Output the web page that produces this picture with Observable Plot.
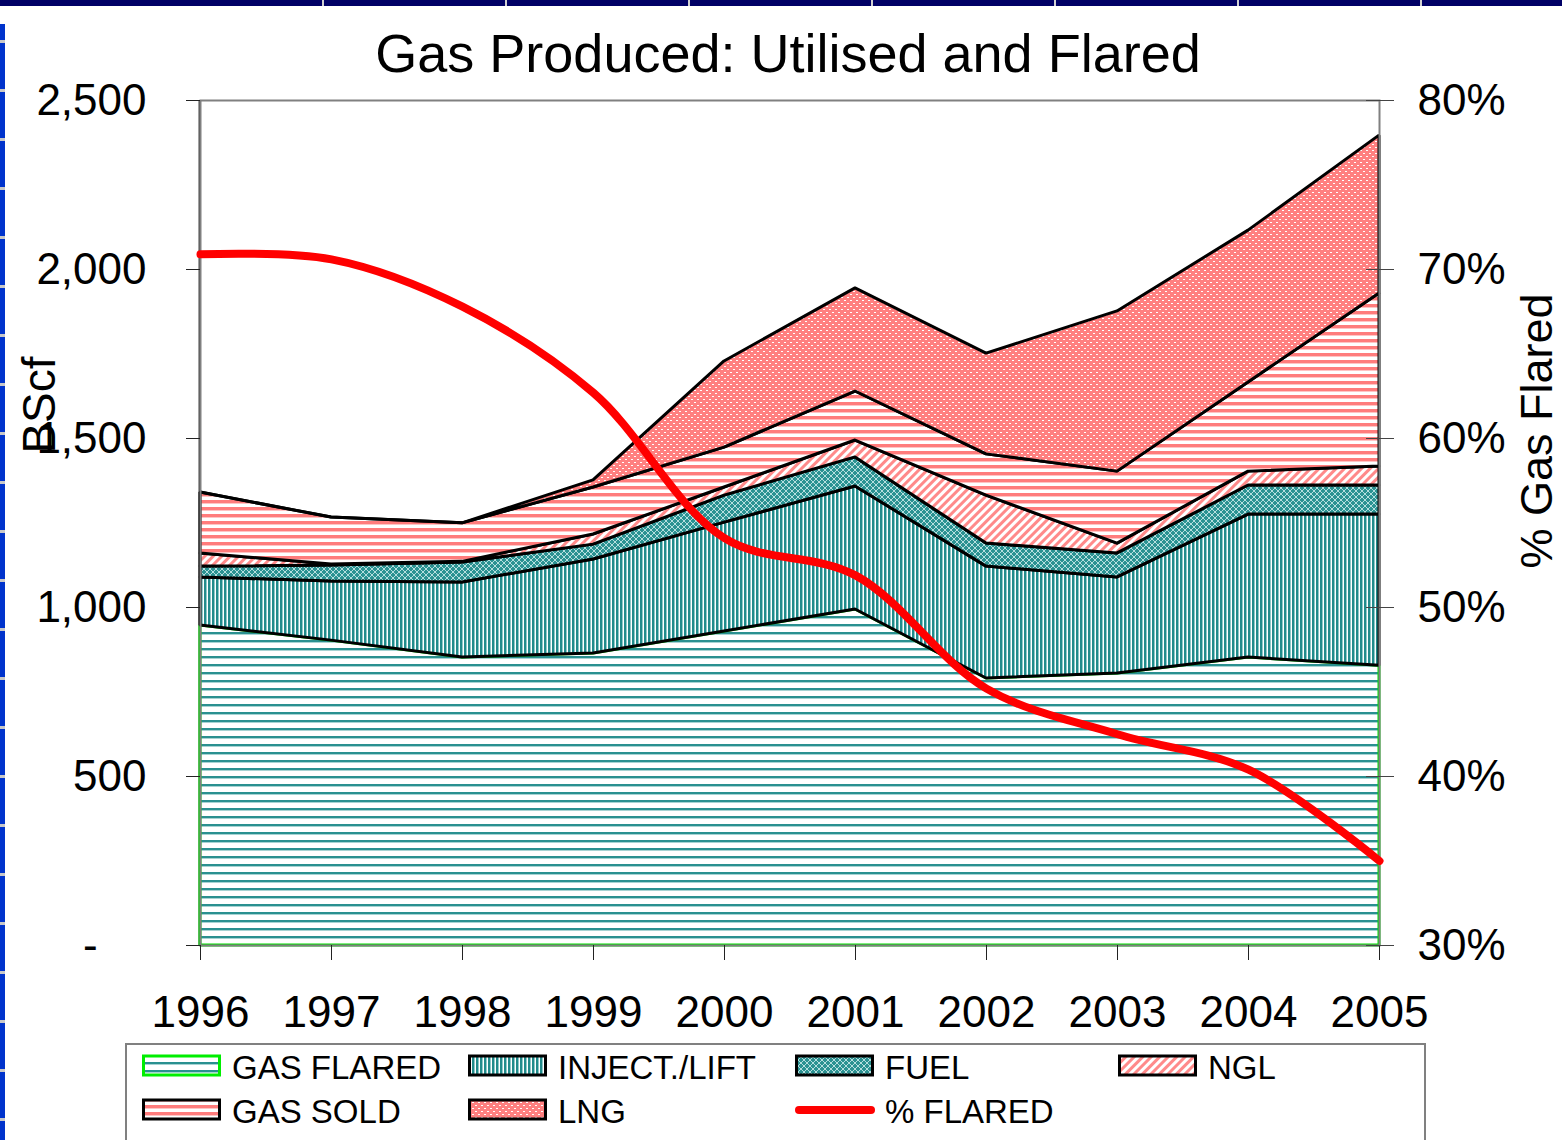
<!DOCTYPE html>
<html>
<head>
<meta charset="utf-8">
<script src="https://cdn.jsdelivr.net/npm/d3@7"></script>
<script src="https://cdn.jsdelivr.net/npm/@observablehq/plot@0.6"></script>
<style>
  html, body { margin: 0; padding: 0; background: #fff; }
  #page { position: relative; width: 1562px; height: 1140px; overflow: hidden; background: #fff;
          font-family: 'Liberation Sans', Arial, sans-serif; color: #000; }
  #topbar { position: absolute; left: 0; top: 0; width: 1562px; height: 6px; background: #000066; }
  #leftbar { position: absolute; left: 0; top: 24px; width: 5px; height: 1116px; background: #0033cc; }
  .tsep { position: absolute; top: 0; width: 2px; height: 6px; background: #d0d0d0; }
  .lsep { position: absolute; left: 0; width: 5px; height: 3px; background: #c8c8c8; }
  #title { position: absolute; left: 288px; width: 1000px; top: 26px; font-size: 54px; line-height: 1; text-align: center; white-space: nowrap; }
  #chart { position: absolute; left: 0; top: 80px; }
  #legend { position: absolute; left: 125px; top: 1043px; width: 1301px; height: 120px; border: 2px solid #808080; box-sizing: border-box; }
  .item { position: absolute; font-size: 33px; line-height: 1; white-space: nowrap; }
  .sw { position: absolute; }
</style>
</head>
<body>
<svg width="0" height="0" style="position:absolute">
  <defs>
    <pattern id="p-flared" patternUnits="userSpaceOnUse" width="8" height="8">
      <rect width="8" height="8" fill="#ffffff"/>
      <rect y="0" width="8" height="2" fill="#2a9090"/>
      <rect y="2" width="8" height="1" fill="#a6d3d3"/>
    </pattern>
    <pattern id="p-inject" patternUnits="userSpaceOnUse" width="4" height="4">
      <rect width="4" height="4" fill="#ffffff"/>
      <rect width="2" height="4" fill="#218b8b"/>
      <rect x="2" width="1" height="4" fill="#8fc9c9"/>
    </pattern>
    <pattern id="p-fuel" patternUnits="userSpaceOnUse" width="6" height="6">
      <rect width="6" height="6" fill="#2b9292"/>
      <path d="M0,3 L3,0 L6,3 L3,6 Z" fill="none" stroke="#b5dede" stroke-width="1"/>
    </pattern>
    <pattern id="p-ngl" patternUnits="userSpaceOnUse" width="6" height="6" patternTransform="rotate(45)">
      <rect width="6" height="6" fill="#ffffff"/>
      <rect width="3" height="6" fill="#ff8a8a"/>
    </pattern>
    <pattern id="p-sold" patternUnits="userSpaceOnUse" width="8" height="7">
      <rect width="8" height="7" fill="#ffffff"/>
      <rect width="8" height="3" fill="#ff7c7c"/>
      <rect y="3" width="8" height="1" fill="#ffc4c4"/>
    </pattern>
    <pattern id="p-lng" patternUnits="userSpaceOnUse" width="6" height="6">
      <rect width="6" height="6" fill="#ff8080"/>
      <rect x="1" y="1" width="2" height="1" fill="#ffffff"/>
      <rect x="4" y="4" width="2" height="1" fill="#ffffff"/>
    </pattern>
  </defs>
</svg>
<div id="page">
  <div id="topbar"></div>
  <div id="leftbar"></div>
  <div id="title"></div>
  <div id="chart"></div>
  <div id="legend"></div>
</div>
<script>
// ---------------- data ----------------
const titleText = "Gas Produced: Utilised and Flared";
const years = [1996, 1997, 1998, 1999, 2000, 2001, 2002, 2003, 2004, 2005];
// BScf, stacked from bottom to top
const gasFlared  = [947, 902, 852, 864, 929, 994, 790, 805, 852, 828];
const injectLift = [142, 175, 222, 278, 322, 364, 331, 284, 423, 447];
const fuel       = [32, 47, 59, 44, 80, 86, 68, 71, 86, 86];
const ngl        = [39, 3, 2, 30, 24, 50, 142, 29, 41, 56];
const gasSold    = [180, 139, 114, 139, 118, 145, 122, 213, 264, 512];
const lng        = [0, 0, 0, 21, 255, 305, 298, 474, 449, 467];
// % of gas flared (right axis)
const pctFlared  = [70.9, 70.6, 67.8, 62.7, 54.1, 51.9, 45.2, 42.5, 40.4, 35.0];

const seriesNames = ["GAS FLARED", "INJECT./LIFT", "FUEL", "NGL", "GAS SOLD", "LNG"];
const lineName = "% FLARED";
const leftTicks = [0, 500, 1000, 1500, 2000, 2500];
const leftTickLabels = ["-\u00a0\u00a0\u00a0\u00a0", "500", "1,000", "1,500", "2,000", "2,500"];
const rightTickLabels = ["30%", "40%", "50%", "60%", "70%", "80%"];
const leftAxisLabel = "BScf";
const rightAxisLabel = "% Gas Flared";

// ---------------- styles ----------------
const fillOf = {
  "GAS FLARED": "url(#p-flared)",
  "INJECT./LIFT": "url(#p-inject)",
  "FUEL": "url(#p-fuel)",
  "NGL": "url(#p-ngl)",
  "GAS SOLD": "url(#p-sold)",
  "LNG": "url(#p-lng)"
};
const strokeOf = s => s === "GAS FLARED" ? "#00dd00" : "#000000";

// slide frame decoration
const page = document.getElementById("page");
for (let x = 322; x < 1562; x += 183) {
  const d = document.createElement("div"); d.className = "tsep"; d.style.left = x + "px"; page.appendChild(d);
}
for (let y = 40; y < 1140; y += 49) {
  const d = document.createElement("div"); d.className = "lsep"; d.style.top = y + "px"; page.appendChild(d);
}

// ---------------- build ----------------
const seriesValues = [gasFlared, injectLift, fuel, ngl, gasSold, lng];
const rows = seriesNames.flatMap((s, i) => years.map((yr, j) => ({year: yr, series: s, value: seriesValues[i][j]})));
const pctRows = years.map((yr, i) => ({year: yr, pct: pctFlared[i]}));
// right axis 30%..80% maps onto left axis 0..2500
const pctToLeft = p => (p - 30) / 50 * 2500;

document.getElementById("title").textContent = titleText;

const chart = Plot.plot({
  width: 1562,
  height: 960,
  marginTop: 20,
  marginBottom: 95,
  marginLeft: 200,
  marginRight: 183,
  style: {fontFamily: "'Liberation Sans', Arial, sans-serif", fontSize: "44px", color: "#000", background: "transparent", overflow: "visible"},
  x: {type: "linear", domain: [1996, 2005]},
  y: {domain: [0, 2500]},
  color: {type: "identity"},
  marks: [
    Plot.ruleX([years[0]], {stroke: "#444", strokeWidth: 2, dx: -1}),
    Plot.areaY(rows, Plot.stackY({
      x: "year", y: "value", z: "series", order: null,
      fill: d => fillOf[d.series],
      stroke: d => strokeOf(d.series),
      strokeWidth: 3, strokeLinejoin: "miter"
    })),
    Plot.frame({stroke: "#808080", strokeWidth: 2}),
    Plot.lineY(pctRows, {x: "year", y: d => pctToLeft(d.pct), stroke: "#ff0000", strokeWidth: 8, curve: "catmull-rom"}),
    Plot.axisX({ticks: years, tickFormat: d => String(d), tickSize: 15, tickPadding: 35, fontSize: 44, label: null, stroke: "#222"}),
    Plot.axisY({ticks: leftTicks, tickFormat: d => leftTickLabels[leftTicks.indexOf(d)], tickSize: 14, tickPadding: 40, fontSize: 44, label: null, stroke: "#222"}),
    Plot.axisY({anchor: "right", ticks: leftTicks, tickFormat: () => "", tickSize: 28, dx: -14, label: null, stroke: "#444"}),
    Plot.axisY({anchor: "right", ticks: leftTicks, tickFormat: d => rightTickLabels[leftTicks.indexOf(d)], tickSize: 0, tickPadding: 38, fontSize: 44, label: null}),
    Plot.text([leftAxisLabel], {text: d => d, frameAnchor: "left", textAnchor: "middle", dx: -160, dy: -118, rotate: -90, fontSize: 46}),
    Plot.text([rightAxisLabel], {text: d => d, frameAnchor: "right", textAnchor: "middle", dx: 158, dy: -92, rotate: -90, fontSize: 45})
  ]
});
document.getElementById("chart").appendChild(chart);

// ---------------- legend ----------------
const legend = document.getElementById("legend");
const lx0 = 125, ly0 = 1043;
const legendItems = [
  {label: seriesNames[0], col: 0, row: 0, kind: "area"},
  {label: seriesNames[1], col: 1, row: 0, kind: "area"},
  {label: seriesNames[2], col: 2, row: 0, kind: "area"},
  {label: seriesNames[3], col: 3, row: 0, kind: "area"},
  {label: seriesNames[4], col: 0, row: 1, kind: "area"},
  {label: seriesNames[5], col: 1, row: 1, kind: "area"},
  {label: lineName, col: 2, row: 1, kind: "line"}
];
const colX = [142, 468, 795, 1118];
const rowY = [1066, 1110];
for (const it of legendItems) {
  const sx = colX[it.col] - lx0 - 2, sy = rowY[it.row] - ly0 - 2;
  const ns = "http://www.w3.org/2000/svg";
  const svg = document.createElementNS(ns, "svg");
  svg.setAttribute("width", 80); svg.setAttribute("height", 24);
  svg.setAttribute("class", "sw");
  svg.style.left = sx + "px"; svg.style.top = (sy - 12) + "px";
  if (it.kind === "area") {
    const r = document.createElementNS(ns, "rect");
    r.setAttribute("x", 1.5); r.setAttribute("y", 2); r.setAttribute("width", 76); r.setAttribute("height", 19);
    r.setAttribute("fill", fillOf[it.label]);
    r.setAttribute("stroke", it.label === "GAS FLARED" ? "#00ee00" : "#000");
    r.setAttribute("stroke-width", 3);
    svg.appendChild(r);
  } else {
    const l = document.createElementNS(ns, "line");
    l.setAttribute("x1", 4); l.setAttribute("x2", 76); l.setAttribute("y1", 12); l.setAttribute("y2", 12);
    l.setAttribute("stroke", "#ff0000"); l.setAttribute("stroke-width", 8); l.setAttribute("stroke-linecap", "round");
    svg.appendChild(l);
  }
  legend.appendChild(svg);
  const t = document.createElement("div");
  t.className = "item";
  t.textContent = it.label;
  t.style.left = (colX[it.col] + 90 - lx0 - 2) + "px";
  t.style.top = (rowY[it.row] - ly0 - 2 - 15) + "px";
  legend.appendChild(t);
}
</script>
</body>
</html>
